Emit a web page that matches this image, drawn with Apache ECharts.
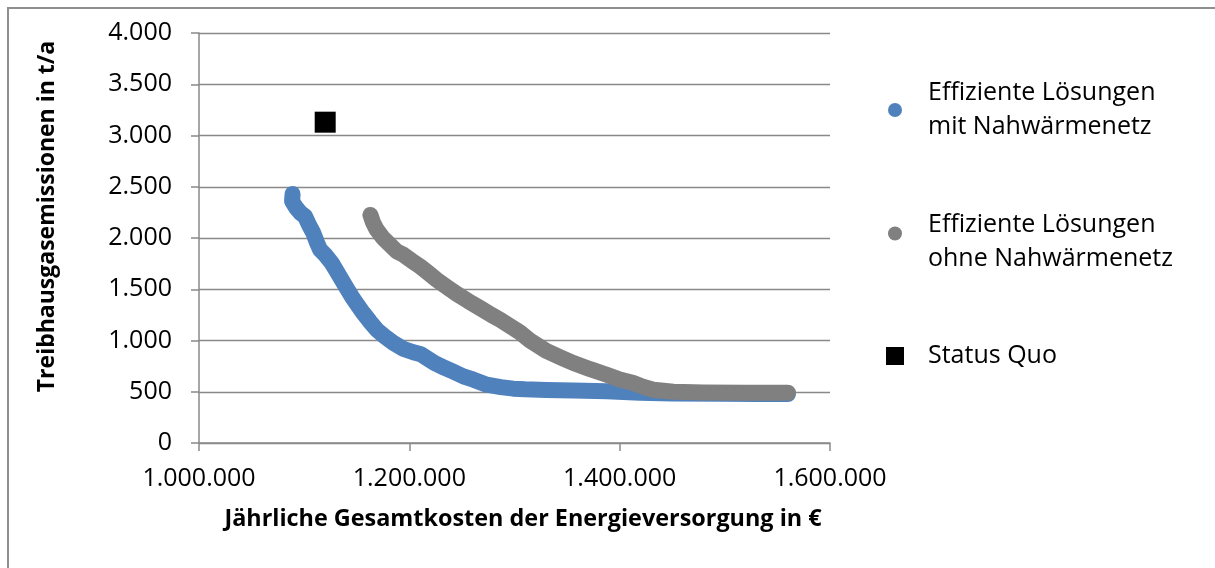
<!DOCTYPE html>
<html><head><meta charset="utf-8">
<script src="https://cdn.jsdelivr.net/npm/echarts@6/dist/echarts.min.js"></script>
<style>html,body{margin:0;padding:0;background:#fff}#c{width:1215px;height:568px}</style>
</head><body><div id="c"></div>
<script>
const seriesNames = ['Effiziente Lösungen\nmit Nahwärmenetz', 'Effiziente Lösungen\nohne Nahwärmenetz', 'Status Quo'];
const xAxisTitle = 'Jährliche Gesamtkosten der Energieversorgung in €';
const yAxisTitle = 'Treibhausgasemissionen in t/a';
const xTicks = [1000000, 1200000, 1400000, 1600000];
const yTicks = [0, 500, 1000, 1500, 2000, 2500, 3000, 3500, 4000];

const mitNetzKosten = [1089000,1088500,1092000,1096500,1100800,1104500,1108700,1112000,1115100,1120500,1126200,1131000,1135700,1140500,1145200,1150500,1156200,1162500,1169000,1176500,1184800,1194000,1203800,1211000,1216500,1224000,1232300,1241000,1251400,1261000,1273600,1287000,1298900,1310000,1330000,1356000,1387700,1419400,1450000,1500000,1530000,1560000];
const mitNetzEmissionen = [2430,2360,2300,2245,2211,2130,2049,1960,1886,1830,1756,1675,1593,1510,1430,1350,1268,1185,1105,1040,976,920,885,865,829,780,740,700,650,618,569,545,530,524,518,513,505,490,484,481,479,478];

const ohneNetzKosten = [1163000,1165500,1169000,1175000,1181600,1188000,1194300,1202000,1210200,1218000,1226000,1236000,1245100,1256000,1267200,1278000,1286300,1296000,1305000,1314700,1330000,1345000,1356000,1372000,1387700,1400000,1413000,1422000,1432000,1451000,1480000,1520000,1560000];
const ohneNetzEmissionen = [2225,2150,2081,2000,1935,1870,1837,1780,1723,1660,1593,1520,1455,1385,1317,1250,1203,1140,1080,1000,900,830,780,720,666,620,585,550,520,500,492,490,490];

const statusQuoKosten = [1120000];
const statusQuoEmissionen = [3130];

const FONT = 'Open Sans';
const AX = '#898989';
function fmt(v){ return String(Math.round(v)).replace(/\B(?=(\d{3})+(?!\d))/g, '.'); }
function zip(a, b){ return a.map((x, i) => [x, b[i]]); }

const chart = echarts.init(document.getElementById('c'), null, {renderer: 'canvas'});
const legendText = (pad, extraTop) => ({
  fontFamily: FONT, fontSize: 25, lineHeight: 34, color: '#000', padding: pad,
  rich: {a: {fontFamily: FONT, fontSize: 25, lineHeight: 34, color: '#000'}, s: {fontSize: 4, lineHeight: extraTop || 1}}
});
const richName = (n) => '{s| }\n' + n.split('\n').map(t => '{a|' + t + '}').join('\n');
chart.setOption({
  animation: false,
  backgroundColor: '#fff',
  grid: {left: 199, top: 33, width: 631, height: 410, containLabel: false, outerBoundsMode: 'none'},
  xAxis: {
    type: 'value', min: xTicks[0], max: xTicks[xTicks.length - 1], interval: xTicks[1] - xTicks[0],
    axisLine: {show: true, lineStyle: {color: AX, width: 1.5}},
    axisTick: {show: true, length: 8, lineStyle: {color: AX, width: 1.5}},
    splitLine: {show: false},
    axisLabel: {margin: 23, fontFamily: FONT, fontSize: 25, color: '#000', formatter: fmt, showMinLabel: true, showMaxLabel: true}
  },
  yAxis: {
    type: 'value', min: yTicks[0], max: yTicks[yTicks.length - 1], interval: yTicks[1] - yTicks[0],
    axisLine: {show: true, lineStyle: {color: AX, width: 1.5}},
    axisTick: {show: true, length: 8, lineStyle: {color: AX, width: 1.5}},
    splitLine: {show: true, lineStyle: {color: AX, width: 1.3}},
    axisLabel: {margin: 27, fontFamily: FONT, fontSize: 25, color: '#000', formatter: fmt, showMinLabel: true, showMaxLabel: true}
  },
  legend: [
    {left: 888, top: 76, padding: 0, orient: 'vertical', selectedMode: false, itemWidth: 14, itemHeight: 14,
     itemStyle: {borderWidth: 0, opacity: 1}, data: [{name: seriesNames[0], icon: 'circle'}], textStyle: legendText([0,0,0,21])},
    {left: 888, top: 191, padding: 0, orient: 'vertical', selectedMode: false, itemWidth: 14, itemHeight: 14,
     itemStyle: {borderWidth: 0, opacity: 1}, data: [{name: seriesNames[1], icon: 'circle'}], formatter: richName,
     textStyle: legendText([0,0,0,21], 17)},
    {left: 886, top: 339, padding: 0, orient: 'vertical', selectedMode: false, itemWidth: 18, itemHeight: 18,
     itemStyle: {borderWidth: 0, opacity: 1}, data: [{name: seriesNames[2], icon: 'rect'}], textStyle: legendText([0,0,0,19])}
  ],
  graphic: [
    {type: 'polyline', silent: true, shape: {points: [[8, 568], [8, 8], [1215, 8]]}, style: {stroke: '#8f8f8f', lineWidth: 2, fill: null}},
    {type: 'text', silent: true, x: 523, y: 519,
     style: {text: xAxisTitle, fontFamily: FONT, fontWeight: 'bold', fontSize: 23.4, fill: '#000', textAlign: 'center', textVerticalAlign: 'middle'}},
    {type: 'text', silent: true, x: 47, y: 216.5, rotation: Math.PI / 2,
     style: {text: yAxisTitle, fontFamily: FONT, fontWeight: 'bold', fontSize: 23, fill: '#000', textAlign: 'center', textVerticalAlign: 'middle'}}
  ],
  series: [
    {type: 'line', name: seriesNames[0], data: zip(mitNetzKosten, mitNetzEmissionen), showSymbol: false, symbol: 'circle', silent: true,
     itemStyle: {color: '#4f81bd', opacity: 1}, lineStyle: {color: '#4f81bd', width: 16, cap: 'round', join: 'round'}, emphasis: {disabled: true}, z: 2},
    {type: 'line', name: seriesNames[1], data: zip(ohneNetzKosten, ohneNetzEmissionen), showSymbol: false, symbol: 'circle', silent: true,
     itemStyle: {color: '#808080', opacity: 1}, lineStyle: {color: '#808080', width: 16, cap: 'round', join: 'round'}, emphasis: {disabled: true}, z: 3},
    {type: 'scatter', name: seriesNames[2], data: zip(statusQuoKosten, statusQuoEmissionen), symbol: 'rect', symbolSize: 21, silent: true,
     itemStyle: {color: '#000', opacity: 1}, emphasis: {disabled: true}, z: 4}
  ]
});
</script></body></html>
